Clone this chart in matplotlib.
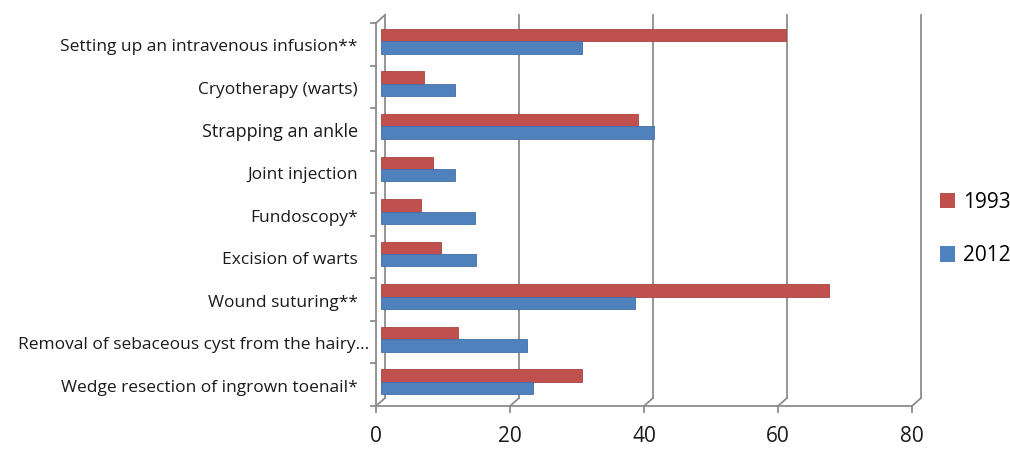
import matplotlib.pyplot as plt
import matplotlib.transforms as mtransforms
from matplotlib.patches import Patch

procedures = [
    "Setting up an intravenous infusion**",
    "Cryotherapy (warts)",
    "Strapping an ankle",
    "Joint injection",
    "Fundoscopy*",
    "Excision of warts",
    "Wound suturing**",
    "Removal of sebaceous cyst from the hairy...",
    "Wedge resection of ingrown toenail*",
]
vals_1993 = [60.5, 6.5, 38.5, 7.9, 6.0, 9.0, 67.0, 11.6, 30.0]
vals_2012 = [30.0, 11.1, 40.8, 11.1, 14.1, 14.3, 38.0, 21.9, 22.7]
xticks = [0, 20, 40, 60, 80]

RED = "#C0504D"
BLUE = "#4F81BD"
GRID = "#8c8c8c"
FONT = ["Open Sans", "DejaVu Sans"]

W, H = 1010, 449
fig = plt.figure(figsize=(W / 100, H / 100), dpi=100)
# front plane of the plot: x 376..912 px, y 23..406 px
ax = fig.add_axes([376 / W, (H - 406) / H, (912 - 376) / W, (406 - 23) / H])
ax.set_xlim(0, 80)
n = len(procedures)
ax.set_ylim(n - 0.5, -0.5)
ax.axis("off")


def shift(dx, dy):
    # pixel offset (x right, y up) on top of data coords
    return ax.transData + mtransforms.ScaledTranslation(dx / 100, dy / 100, fig.dpi_scale_trans)


back = shift(9, 8)
mid = shift(4.5, 3)


def fig_line(p0, p1):
    fig.add_artist(plt.Line2D([p0[0] / W, p1[0] / W], [p0[1] / H, p1[1] / H],
                              color=GRID, lw=1.3))


# back wall gridlines and their feet on the floor
for v in xticks:
    ax.plot([v, v], [n - 0.5, -0.5], color=GRID, lw=1.3, transform=back,
            clip_on=False, zorder=1)
    x0, y0 = back.transform((v, n - 0.5))
    x1, y1 = ax.transData.transform((v, n - 0.5))
    fig_line((x0, y0), (x1, y1))
    fig_line((x1, y1), (x1, y1 - 6))

# floor front edge and left front edge
ax.plot([0, 80], [n - 0.5, n - 0.5], color=GRID, lw=1.3, clip_on=False)
ax.plot([0, 0], [n - 0.5, -0.5], color=GRID, lw=1.3, clip_on=False)
fig_line(ax.transData.transform((0, -0.5)), back.transform((0, -0.5)))
for i in range(n + 1):
    xt, yt = ax.transData.transform((0, i - 0.5))
    fig_line((xt - 5, yt), (xt, yt))

# bars, drawn mid-depth
pos = list(range(n))
bh = 0.29
ax.barh([p - bh / 2 for p in pos], vals_1993, height=bh, color=RED,
        edgecolor="#a84441", lw=0.6, transform=mid, zorder=3)
ax.barh([p + bh / 2 for p in pos], vals_2012, height=bh, color=BLUE,
        edgecolor="#4270a8", lw=0.6, transform=mid, zorder=3)

# category labels (the truncated one runs closer to the axis)
for i, name in enumerate(procedures):
    xt, yt = ax.transData.transform((0, i))
    size = 13 if name == "Strapping an ankle" else 12.5
    gap = 7 if name.endswith("...") else 18
    fig.text((xt - gap) / W, (yt - 3) / H, name, ha="right", va="center",
             fontsize=size, family=FONT, color="#1a1a1a")

# value axis labels
for v in xticks:
    xt, yt = ax.transData.transform((v, n - 0.5))
    fig.text(xt / W, (yt - 30) / H, str(v), ha="center", va="center",
             fontsize=15, family=FONT, color="#1a1a1a")

handles = [Patch(facecolor=RED, label="1993"), Patch(facecolor=BLUE, label="2012")]
fig.legend(handles=handles, loc="center left", bbox_to_anchor=(921 / W, (H - 229) / H),
           frameon=False, handlelength=0.75, handleheight=0.75, handletextpad=0.35,
           labelspacing=1.55, prop={"family": FONT, "size": 15})

fig.savefig("out.png", dpi=100)
